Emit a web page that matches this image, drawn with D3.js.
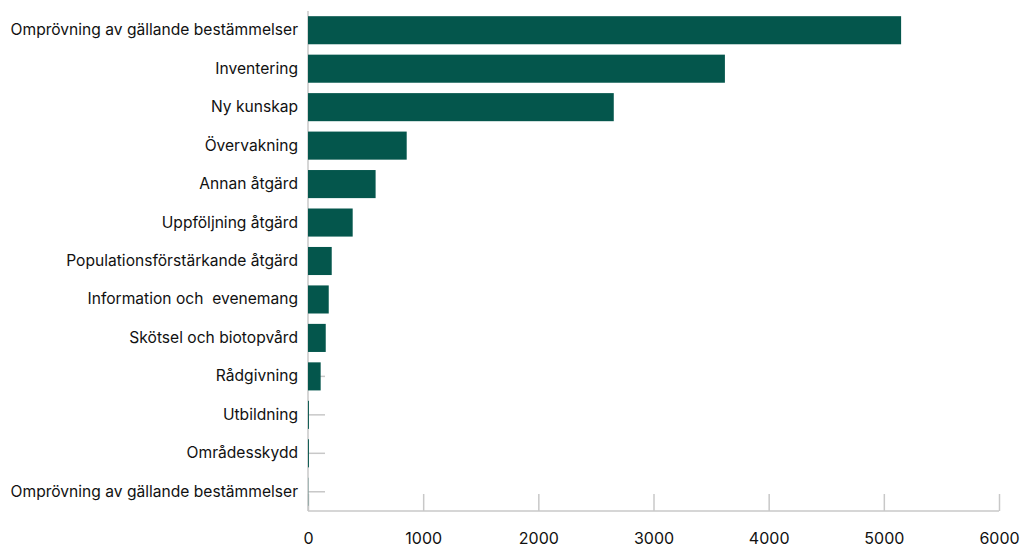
<!DOCTYPE html>
<html>
<head>
<meta charset="utf-8">
<script src="https://cdn.jsdelivr.net/npm/d3@7"></script>
<style>
  body { margin: 0; background: #fff; }
  svg text { font-family: Inter, "Open Sans", sans-serif; fill: #111; white-space: pre; }
</style>
</head>
<body>
<div id="chart"></div>
<script>
// data
const categories = [
    "Omprövning av gällande bestämmelser",
    "Inventering",
    "Ny kunskap",
    "Övervakning",
    "Annan åtgärd",
    "Uppföljning åtgärd",
    "Populationsförstärkande åtgärd",
    "Information och  evenemang",
    "Skötsel och biotopvård",
    "Rådgivning",
    "Utbildning",
    "Områdesskydd",
    "Omprövning av gällande bestämmelser"
];
const values = [5150, 3620, 2655, 857, 587, 388, 206, 180, 154, 110, 8, 8, 2];
const xTicks = [0, 1000, 2000, 3000, 4000, 5000, 6000];

const width = 1023, height = 550;
const margin = {top: 11, right: 24, bottom: 39, left: 308};

const svg = d3.select("#chart").append("svg")
    .attr("width", width)
    .attr("height", height);

const x = d3.scaleLinear()
    .domain([0, 6000])
    .range([margin.left, width - margin.right]);

const y = d3.scaleBand()
    .domain(d3.range(categories.length))
    .range([margin.top, height - margin.bottom])
    .paddingInner(0.27)
    .paddingOuter(0.135);

// y axis: inward ticks, label on the left
const yAxis = svg.append("g")
    .attr("transform", `translate(${margin.left},0)`)
    .call(d3.axisLeft(y).tickSize(-17).tickPadding(10).tickFormat(i => categories[i]));
yAxis.select(".domain").attr("stroke", "#c8c8c8").attr("stroke-width", 1.5)
    .attr("d", `M0,${margin.top}V${height - margin.bottom}`);
yAxis.selectAll(".tick line").attr("stroke", "#c8c8c8").attr("stroke-width", 1.5);
yAxis.selectAll(".tick text")
    .attr("x", -10)
    .style("font-size", "15.6px");

// x axis: upward ticks
const xAxis = svg.append("g")
    .attr("transform", `translate(0,${height - margin.bottom})`)
    .call(d3.axisBottom(x).tickValues(xTicks).tickSize(-17).tickPadding(22).tickFormat(d3.format("d")));
xAxis.select(".domain").attr("stroke", "#c8c8c8").attr("stroke-width", 1.5)
    .attr("d", `M${margin.left},0H${width - margin.right}`);
xAxis.selectAll(".tick line").attr("stroke", "#c8c8c8").attr("stroke-width", 1.5);
xAxis.selectAll(".tick text").style("font-size", "16px");

// bars
svg.append("g").selectAll("rect")
    .data(values)
    .join("rect")
    .attr("x", x(0))
    .attr("y", (d, i) => y(i))
    .attr("width", d => x(d) - x(0))
    .attr("height", y.bandwidth())
    .attr("fill", "#04564c");
</script>
</body>
</html>
